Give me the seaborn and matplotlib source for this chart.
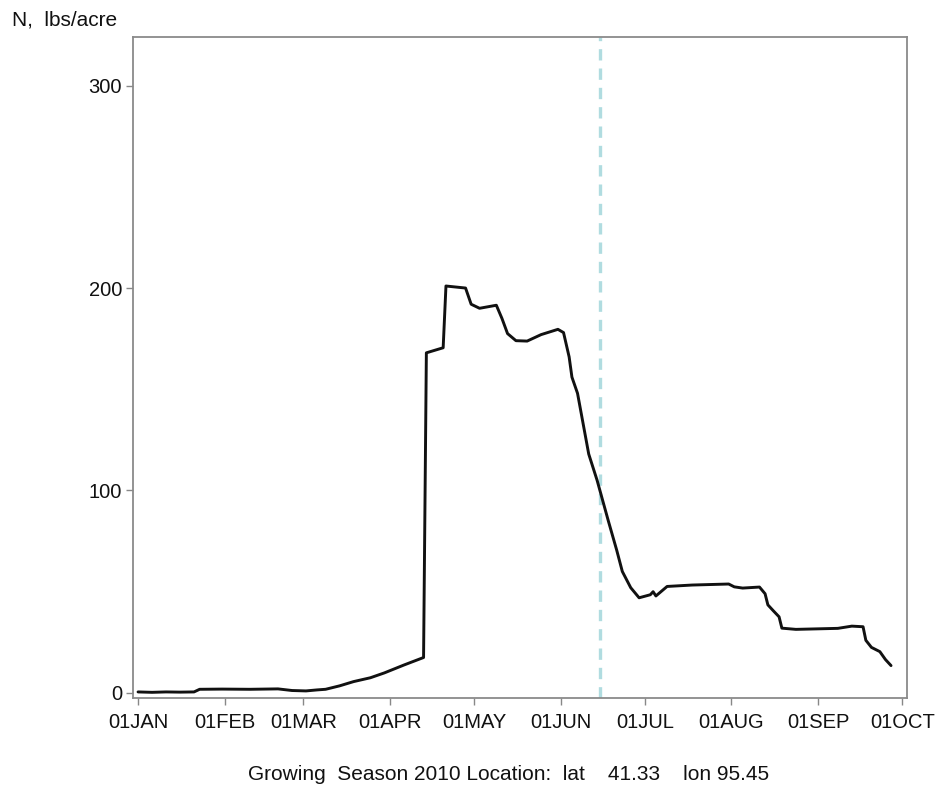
import matplotlib
matplotlib.use("Agg")
import matplotlib.pyplot as plt
import numpy as np
import pandas as pd
import seaborn as sns

# Soil nitrogen over the 2010 growing season (lbs/acre)
dates = [
    "2010-01-01", "2010-01-06", "2010-01-11", "2010-01-16", "2010-01-21",
    "2010-01-23", "2010-01-31", "2010-02-10", "2010-02-20", "2010-02-25",
    "2010-03-02", "2010-03-06", "2010-03-09", "2010-03-14", "2010-03-19",
    "2010-03-25", "2010-03-30", "2010-04-06", "2010-04-13", "2010-04-14",
    "2010-04-20", "2010-04-21", "2010-04-28", "2010-04-30", "2010-05-03",
    "2010-05-09", "2010-05-11", "2010-05-13", "2010-05-16", "2010-05-20",
    "2010-05-25", "2010-05-31", "2010-06-02", "2010-06-04", "2010-06-05",
    "2010-06-07", "2010-06-09", "2010-06-11", "2010-06-14", "2010-06-16",
    "2010-06-18", "2010-06-21", "2010-06-23", "2010-06-26", "2010-06-29",
    "2010-07-03", "2010-07-04", "2010-07-05", "2010-07-09", "2010-07-18",
    "2010-07-31", "2010-08-02", "2010-08-05", "2010-08-11", "2010-08-13",
    "2010-08-14", "2010-08-16", "2010-08-18", "2010-08-19", "2010-08-24",
    "2010-09-08", "2010-09-13", "2010-09-17", "2010-09-18", "2010-09-20",
    "2010-09-23", "2010-09-25", "2010-09-27",
]
nitrogen = [
    0.5, 0.3, 0.5, 0.4, 0.5,
    1.8, 1.9, 1.8, 2.0, 1.2,
    1.0, 1.5, 1.8, 3.5, 5.6,
    7.5, 9.9, 13.8, 17.5, 168.0,
    170.5, 201.0, 200.0, 192.0, 190.0,
    191.5, 185.0, 177.5, 174.0, 173.8,
    177.0, 179.6, 178.0, 166.0, 156.0,
    148.0, 133.0, 118.0, 105.0, 95.0,
    85.0, 70.5, 60.0, 52.0, 47.0,
    48.5, 50.0, 47.9, 52.6, 53.3,
    53.8, 52.4, 51.8, 52.3, 49.0,
    43.5, 40.5, 37.6, 32.0, 31.4,
    31.9, 33.0, 32.7, 26.0, 22.5,
    20.4, 16.5, 13.5,
]
marker_date = "2010-06-15"

tick_dates = ["2010-01-01", "2010-02-01", "2010-03-01", "2010-04-01", "2010-05-01",
              "2010-06-01", "2010-07-01", "2010-08-01", "2010-09-01", "2010-10-01"]
tick_labels = ["01JAN", "01FEB", "01MAR", "01APR", "01MAY",
               "01JUN", "01JUL", "01AUG", "01SEP", "01OCT"]
y_ticks = [0, 100, 200, 300]

sns.set_theme(style="white")
plt.rcParams["font.family"] = ["Liberation Sans", "DejaVu Sans"]

df = pd.DataFrame({"date": pd.to_datetime(dates), "N": nitrogen})

fig = plt.figure(figsize=(9.35, 7.85), dpi=100)
ax = fig.add_axes([133 / 935, 1 - 698 / 785, 774 / 935, 661 / 785])

ax.axvline(pd.Timestamp(marker_date), color="#b0dce0", lw=2.4,
           dashes=(3.4, 2.4), zorder=1)
sns.lineplot(data=df, x="date", y="N", ax=ax, color="#111111", lw=2.1, zorder=3)

start = pd.Timestamp("2010-01-01")
ax.set_xlim(start - pd.Timedelta(days=1.8), start + pd.Timedelta(days=274.7))
ax.set_ylim(-2.5, 324)

ax.set_xticks(pd.to_datetime(tick_dates))
ax.set_xticklabels(tick_labels)
ax.set_yticks(y_ticks)
ax.set_yticklabels([str(v) for v in y_ticks])

ax.tick_params(axis="both", which="major", direction="out", length=5, width=1,
               color="#888888", labelsize=14.5, labelcolor="#111111")
ax.tick_params(axis="x", pad=6)
ax.tick_params(axis="y", pad=3)
ax.tick_params(bottom=True, left=True)

for side in ["left", "right", "top", "bottom"]:
    ax.spines[side].set_visible(True)
    ax.spines[side].set_color("#8a8a8a")
    ax.spines[side].set_linewidth(1.3)

ax.set_ylabel("")
ax.set_xlabel("Growing  Season 2010 Location:  lat    41.33    lon 95.45",
              fontsize=15, color="#111111")
ax.xaxis.set_label_coords((509 - 133) / 774, -0.101)

fig.text(12 / 935, 1 - 20 / 785, "N,  lbs/acre", fontsize=15, ha="left",
         va="center", color="#111111")

fig.savefig("out.png", dpi=100, facecolor="white")
